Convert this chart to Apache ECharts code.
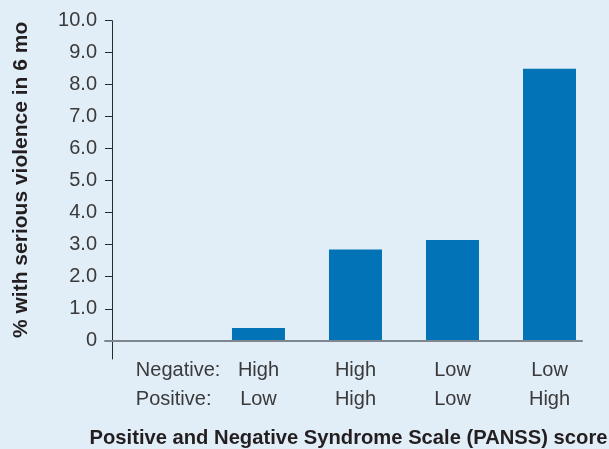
<!DOCTYPE html>
<html><head><meta charset="utf-8">
<script src="https://cdn.jsdelivr.net/npm/echarts@6/dist/echarts.min.js"></script>
<style>html,body{margin:0;padding:0;background:#e1edf7}#c{width:609px;height:449px}</style>
</head><body><div id="c"></div>
<script>
const negativeLevels = ['High', 'High', 'Low', 'Low'];
const positiveLevels = ['Low', 'High', 'Low', 'High'];
const rowHeaders = ['Negative:', 'Positive:'];
const violencePct = [0.4, 2.85, 3.15, 8.5];
const yTicks = [0, 1, 2, 3, 4, 5, 6, 7, 8, 9, 10];
const xTitle = 'Positive and Negative Syndrome Scale (PANSS) score';
const yTitle = '% with serious violence in 6 mo';

const groupPos = [1, 2, 3, 4];
const headerPos = 0.2;
const barData = violencePct.map((v, i) => [groupPos[i], v]);
const FONT = '"Liberation Sans", Arial, sans-serif';
const labelColor = '#3a3a3a';

const chart = echarts.init(document.getElementById('c'), null, {renderer: 'canvas'});
chart.setOption({
  backgroundColor: '#e1edf7',
  animation: false,
  grid: {left: 105, right: 27, top: 20.7, bottom: 90, containLabel: false, outerBoundsMode: 'none'},
  xAxis: {
    type: 'value', min: -0.582, max: 4.335, z: 3,
    axisLine: {onZero: true, lineStyle: {color: '#80868e', width: 2}},
    axisTick: {show: false}, splitLine: {show: false},
    axisLabel: {
      customValues: [headerPos].concat(groupPos),
      margin: -3, fontSize: 20, lineHeight: 29, color: labelColor, fontFamily: FONT,
      formatter: function (v) {
        if (Math.abs(v - headerPos) < 1e-6) return '{h|' + rowHeaders[0] + '}\n{h|' + rowHeaders[1] + '}';
        const i = groupPos.indexOf(v);
        return negativeLevels[i] + '\n' + positiveLevels[i];
      },
      rich: {h: {width: 90, align: 'left', fontSize: 20, lineHeight: 29, color: labelColor, fontFamily: FONT}}
    },
    name: xTitle, nameLocation: 'middle', nameGap: 69,
    nameTextStyle: {fontSize: 20.2, fontWeight: 'bold', color: '#231f20', fontFamily: FONT, padding: [0, 0, 0, 10]}
  },
  yAxis: {
    type: 'value', min: -0.57, max: 10, offset: -7,
    axisLine: {onZero: false, lineStyle: {color: '#2a2a2a', width: 1}},
    axisTick: {customValues: yTicks, length: 7, lineStyle: {color: '#2a2a2a', width: 1}},
    splitLine: {show: false},
    axisLabel: {
      customValues: yTicks, margin: 15, fontSize: 20, color: labelColor, fontFamily: FONT,
      formatter: v => (v === 0 ? '0' : v.toFixed(1))
    },
    name: yTitle, nameLocation: 'middle', nameGap: 80,
    nameTextStyle: {fontSize: 21, fontWeight: 'bold', color: '#231f20', fontFamily: FONT, padding: [0, 0, 0, 20]}
  },
  series: [{
    type: 'bar', data: barData, barWidth: 53,
    itemStyle: {color: '#0373b7'}
  }]
});
</script></body></html>
